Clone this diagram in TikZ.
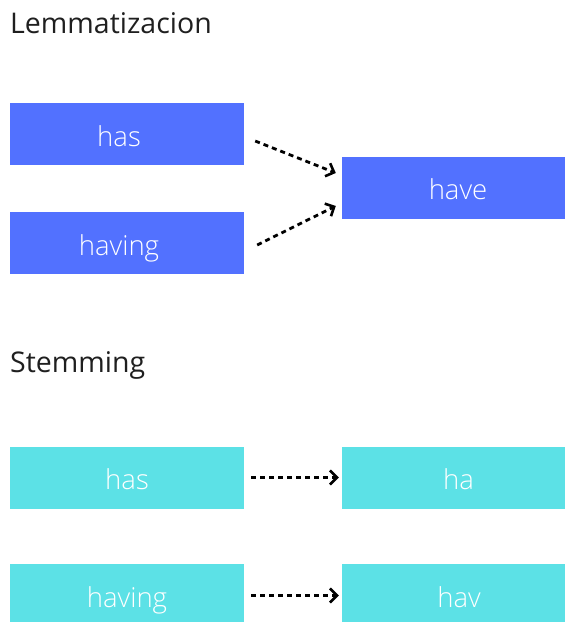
\documentclass[tikz,border=0pt]{standalone}
\usepackage{fontspec}
\setmainfont{Open Sans}
\newfontfamily\lightfont{Open Sans Light}
\usetikzlibrary{arrows.meta,calc}
\definecolor{lemblue}{HTML}{5271FF}
\definecolor{stemcyan}{HTML}{5CE1E6}
\begin{document}
\begin{tikzpicture}[x=1pt,y=-1pt,
  heading/.style={anchor=base west,inner sep=0pt,font=\fontsize{28.5}{33}\selectfont,text=black!88},
  wordbox/.style={rectangle,minimum width=234pt,minimum height=62pt,inner sep=0pt,
    text=white,font=\lightfont\fontsize{27.5}{32}\selectfont,text height=26pt,text depth=2pt},
  tshift/.style={execute at begin node={\hspace*{#1}}},
  lembox/.style={wordbox,fill=lemblue},
  stembox/.style={wordbox,fill=stemcyan},
  dotarrow/.style={line width=2.8pt,dash pattern=on 5pt off 4pt,
    -{Straight Barb[length=7pt,width=14pt,line width=2.6pt]}}]
\useasboundingbox (0,0) rectangle (565,622);
% headings
\node[heading] (lem) at (10,33) {Lemmatizacion};
\node[heading] (stem) at (10,372) {Stemming};
% lemmatization boxes
\node[lembox,tshift=-16pt] (has1) at (127,134) {has};
\node[lembox,tshift=-16pt] (having1) at (127,243) {having};
\node[lembox,tshift=9pt,minimum width=223pt] (have) at (453.5,187.5) {have};
% stemming boxes
\node[stembox] (has2) at (127,477.5) {has};
\node[stembox,tshift=10pt,minimum width=223pt] (ha) at (453.5,477.5) {ha};
\node[stembox] (having2) at (127,595) {having};
\node[stembox,tshift=11pt,minimum width=223pt] (hav) at (453.5,595) {hav};
% connector ends
\coordinate (a1s) at ($(has1.east)+(11,7)$);
\coordinate (a1e) at ($(have.west)+(-6,-14.5)$);
\coordinate (a2s) at ($(having1.east)+(13,2)$);
\coordinate (a2e) at ($(have.west)+(-6,18.5)$);
\coordinate (a3s) at ($(has2.east)+(7,0)$);
\coordinate (a3e) at ($(ha.west)+(-3,0)$);
\coordinate (a4s) at ($(having2.east)+(7,0.5)$);
\coordinate (a4e) at ($(hav.west)+(-3,0.5)$);
% connectors
\draw[dotarrow] (a1s) -- (a1e);
\draw[dotarrow] (a2s) -- (a2e);
\draw[dotarrow] (a3s) -- (a3e);
\draw[dotarrow] (a4s) -- (a4e);
\end{tikzpicture}
\end{document}
